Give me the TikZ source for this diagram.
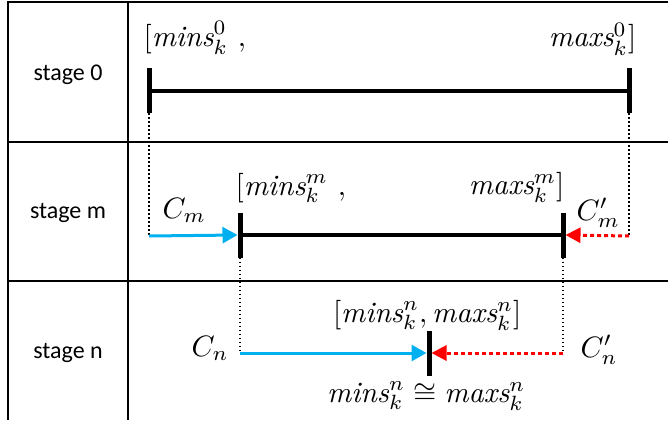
\documentclass[tikz,border=0pt]{standalone}
\usepackage{fontspec}
\newfontfamily\stagefont{Carlito}
\usetikzlibrary{arrows.meta}
\definecolor{lblue}{RGB}{0,176,240}
\definecolor{lred}{RGB}{255,0,0}
\tikzset{
  grid/.style={line width=2pt,black},
  stagelbl/.style={font=\stagefont\fontsize{24}{28}\selectfont,inner sep=0pt},
  mathlbl/.style={font=\normalsize,inner sep=0pt,scale=2.95},
  tickbar/.style={fill=black,minimum width=5pt,minimum height=45pt,inner sep=0pt,outer sep=0pt},
  bar/.style={line width=4pt,black},
  guide/.style={line width=1.5pt,black,dash pattern=on 1.5pt off 2.5pt},
  bluearr/.style={line width=3pt,lblue,-{Triangle[length=15pt,width=16pt]}},
  redarr/.style={line width=3pt,lred,dash pattern=on 4pt off 3pt,-{Triangle[length=15pt,width=15pt]}},
}
\begin{document}
\begin{tikzpicture}[x=1pt,y=-1pt]
\useasboundingbox (0,0) rectangle (668,420);
% table
\draw[grid] (8,2) -- (668,2);
\draw[grid] (8,142) -- (668,142);
\draw[grid] (8,281) -- (668,281);
\draw[grid] (8,1) -- (8,420);
\draw[grid] (128,1) -- (128,420);
% stage labels
\node[stagelbl] (s0) at (68,75) {stage 0};
\node[stagelbl] (sm) at (68,213) {stage m};
\node[stagelbl] (sn) at (68,353) {stage n};
% ticks
\node[tickbar] (t0a) at (149,90.5) {};
\node[tickbar] (t0b) at (629,90.5) {};
\node[tickbar] (tma) at (240,235) {};
\node[tickbar] (tmb) at (563,235) {};
\node[tickbar] (tn) at (429,353) {};
% bars
\draw[bar] (t0a.center) -- (t0b.center);
\draw[bar] (tma.center) -- (tmb.center);
% corner coordinates
\coordinate (cm) at (149,236);
\coordinate (cmp) at (629,236);
\coordinate (cn) at (240,353);
\coordinate (cnp) at (563,353);
% guides
\draw[guide] (t0a.south) -- (cm);
\draw[guide] (t0b.south) -- (cmp);
\draw[guide] (tma.south) -- (cn);
\draw[guide] (tmb.south) -- (cnp);
% arrows
\draw[bluearr] (cm) -- (tma.west);
\draw[redarr] (cmp) -- (tmb.east);
\draw[bluearr] (cn) -- (tn.west);
\draw[redarr] (cnp) -- (tn.east);
% math labels
\node[mathlbl,anchor=base west] (l0a) at (143,47) {$[\mathit{mins}_k^0\ ,$};
\node[mathlbl,anchor=base east] (l0b) at (637,47) {$\mathit{maxs}_k^0]$};
\node[mathlbl,anchor=base west] (lma) at (235,195) {$[\mathit{mins}_k^m\ ,$};
\node[mathlbl,anchor=base east] (lmb) at (565,194) {$\mathit{maxs}_k^m]$};
\node[mathlbl,anchor=base west] (lcm) at (162,218) {$C_m$};
\node[mathlbl,anchor=base west] (lcmp) at (576,220) {$C'_m$};
\node[mathlbl,anchor=base west] (lcn) at (191,356) {$C_n$};
\node[mathlbl,anchor=base west] (lcnp) at (580,357) {$C'_n$};
\node[mathlbl,anchor=base east] (lnt) at (522,322) {$[\mathit{mins}_k^n,\mathit{maxs}_k^n]$};
\node[mathlbl,anchor=base east] (lnb) at (526,402) {$\mathit{mins}_k^n\cong\mathit{maxs}_k^n$};
\end{tikzpicture}
\end{document}
